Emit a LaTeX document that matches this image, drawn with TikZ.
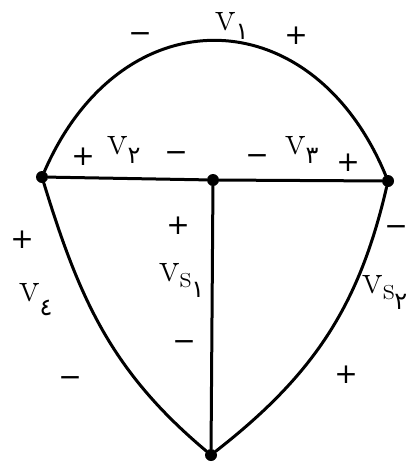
\documentclass[tikz,border=0pt]{standalone}
\usepackage{fontspec}
\newfontfamily\arabicfont{DejaVu Sans}
\newfontfamily\signfont{DejaVu Sans}
\newcommand{\subdig}[2][-9pt]{\raisebox{#1}{\arabicfont\fontsize{24}{26}\selectfont #2}}
\newcommand{\subs}{\raisebox{-6pt}{\fontsize{32}{34}\selectfont s}}
\begin{document}
\begin{tikzpicture}[x=1pt,y=-1pt,
  wire/.style={line width=3pt,line cap=round,line join=round},
  dot/.style={circle,fill=black,inner sep=0pt,minimum size=12pt},
  sgn/.style={font=\signfont\fontsize{28}{32}\selectfont,inner sep=0pt},
  lab/.style={font=\fontsize{42}{46}\selectfont,inner sep=0pt}]
\useasboundingbox (0,0) rectangle (420,466);
\node[dot] (L) at (42,177) {};
\node[dot] (M) at (213,180) {};
\node[dot] (R) at (388,181) {};
\node[dot] (B) at (211,455) {};
\draw[wire] (L) .. controls (122,-6) and (312,-2) .. (R);
\draw[wire] (L) -- (M) -- (R);
\draw[wire] (M) -- (B);
\draw[wire] (L) to[out=-73,in=140] (B);
\draw[wire] (R) to[out=-103,in=38] (B);
% top arc
\node[sgn] (s1a) at (140,38) {−};
\node[lab] (v1) at (232,26) {v\subdig{۱}};
\node[sgn] (s1b) at (296,36) {+};
% v2
\node[sgn] (s2a) at (83,157) {+};
\node[lab] (v2) at (124,150) {v\subdig{۲}};
\node[sgn] (s2b) at (176,157) {−};
% v3
\node[sgn] (s3a) at (257,160) {−};
\node[lab] (v3) at (302,150) {v\subdig{۳}};
\node[sgn] (s3b) at (348,163) {+};
% v4
\node[sgn] (s4a) at (22,240) {+};
\node[lab] (v4) at (36,300) {v\subdig[-14pt]{٤}};
\node[sgn] (s4b) at (70,382) {−};
% vs1
\node[sgn] (s5a) at (178,226) {+};
\node[lab] (v5) at (182,280) {v\subs\subdig[-16pt]{۱}};
\node[sgn] (s5b) at (184,346) {−};
% vs2
\node[sgn] (s6a) at (396,231) {−};
\node[lab] (v6) at (385,292) {v\subs\subdig[-16pt]{۲}};
\node[sgn] (s6b) at (346,375) {+};
\end{tikzpicture}
\end{document}
